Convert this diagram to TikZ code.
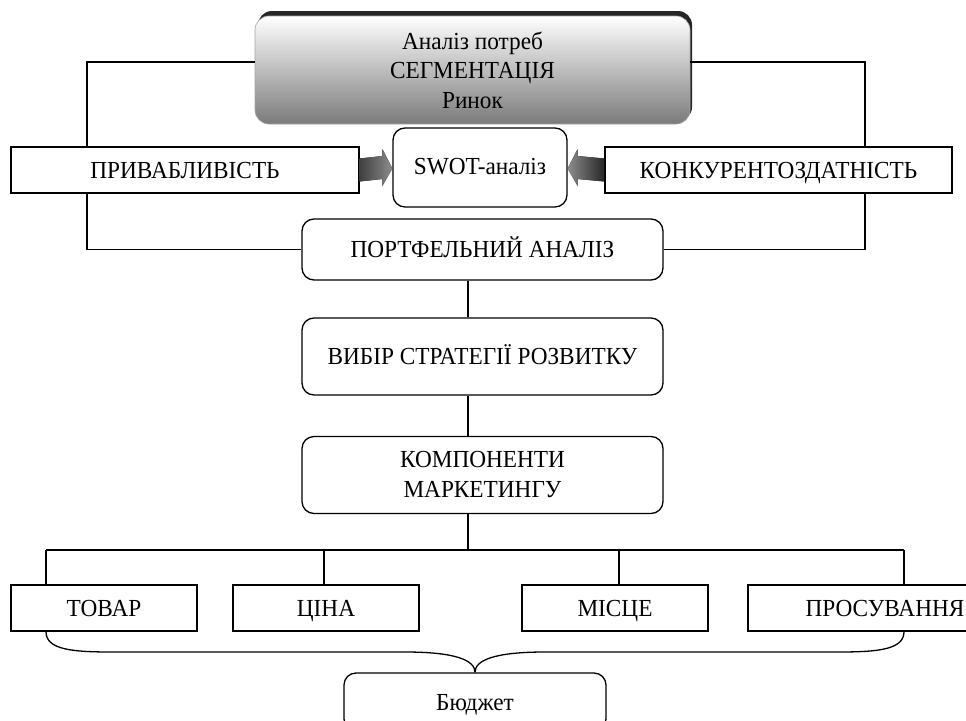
\documentclass[tikz,border=0pt]{standalone}
\usepackage{fontspec}
\setmainfont{Liberation Serif}[FakeStretch=0.95]
\usetikzlibrary{calc}
\begin{document}
\begin{tikzpicture}[x=1pt,y=-1pt,
  conn/.style={line width=1.3pt},
  sq/.style={draw, line width=1.3pt, rectangle, inner sep=0pt, align=center,
     font=\fontsize{24.5}{30}\selectfont},
  one/.style={text height=16.2pt, text depth=0pt},
  rnd/.style={sq, rounded corners=12pt}]
\useasboundingbox (0,0) rectangle (966,720);
\clip (0,0) rectangle (966,720);
% top box
\fill[black!85, rounded corners=14pt] (258,11) rectangle (692,121);
\node[rounded corners=14pt, minimum width=435pt, minimum height=108pt, inner sep=0pt,
      top color=white, bottom color=black!52, draw=black!35, line width=0.6pt,
      align=center, font=\fontsize{24.5}{29.5}\selectfont]
      (top) at (472.5,70) {Аналіз потреб\\СЕГМЕНТАЦІЯ\\Ринок};
% middle row
\node[sq, one, minimum width=348pt, minimum height=46pt] (priv) at (185,170) {ПРИВАБЛИВІСТЬ};
\node[sq, one, minimum width=347pt, minimum height=46pt] (konk) at (778.5,170) {КОНКУРЕНТОЗДАТНІСТЬ};
\node[rnd, text height=13pt, text depth=0pt, minimum width=174pt, minimum height=79pt] (swot) at (480,167.5) {SWOT-аналіз};
% block arrows
\fill[left color=black!75, right color=black!45]
  ($(priv.east)+(0,-11.5)$) -- ($(swot.west)+(-10,-11.5)$) -- ($(swot.west)+(-10,-18.5)$)
  -- ($(swot.west)+(0,1)$) -- ($(swot.west)+(-10,18.5)$) -- ($(swot.west)+(-10,11.5)$)
  -- ($(priv.east)+(0,11.5)$) -- cycle;
\fill[left color=black!45, right color=black!85]
  ($(konk.west)+(0,-11.5)$) -- ($(swot.east)+(10,-11.5)$) -- ($(swot.east)+(10,-18.5)$)
  -- ($(swot.east)+(0,1)$) -- ($(swot.east)+(10,18.5)$) -- ($(swot.east)+(10,11.5)$)
  -- ($(konk.west)+(0,11.5)$) -- cycle;
% chain
\node[rnd, one, minimum width=361pt, minimum height=61pt] (portf) at (482.5,249.5) {ПОРТФЕЛЬНИЙ АНАЛІЗ};
\node[rnd, one, minimum width=361pt, minimum height=77pt] (vybir) at (482.5,356.5) {ВИБІР СТРАТЕГІЇ РОЗВИТКУ};
\node[rnd, minimum width=361pt, minimum height=77pt] (komp) at (482.5,475) {КОМПОНЕНТИ\\МАРКЕТИНГУ};
% bottom boxes
\node[sq, one, minimum width=186pt, minimum height=46pt] (tovar) at (104,608) {ТОВАР};
\node[sq, one, minimum width=186pt, minimum height=46pt] (cina) at (326,608) {ЦІНА};
\node[sq, one, minimum width=186pt, minimum height=46pt] (misce) at (615,608) {МІСЦЕ};
\node[sq, one, minimum width=274pt, minimum height=46pt] (prosuv) at (885,608) {ПРОСУВАННЯ};
\node[rnd, one, minimum width=262pt, minimum height=58pt] (budget) at (475,702) {Бюджет};
% helper coordinates
\coordinate (lx) at (87,0);
\coordinate (rx) at (865,0);
\coordinate (vx) at (468,0);
\coordinate (hb) at (0,550);
\coordinate (d1) at (46,0);
\coordinate (d2) at (324,0);
\coordinate (d3) at (619,0);
\coordinate (d4) at (904,0);
\coordinate (bl) at (112,652);
\coordinate (bm) at (405,652);
\coordinate (br) at (838,652);
\coordinate (bn) at (545,652);
% connectors
\draw[conn] ([yshift=8pt]top.west) -| (lx |- priv.north);
\draw[conn] (lx |- priv.south) |- (portf.west);
\draw[conn] ([yshift=8pt]top.east) -| (rx |- konk.north);
\draw[conn] (rx |- konk.south) |- (portf.east);
\draw[conn] (vx |- portf.south) -- (vx |- vybir.north);
\draw[conn] (vx |- vybir.south) -- (vx |- komp.north);
\draw[conn] (vx |- komp.south) -- (vx |- hb);
\draw[conn] (d1 |- hb) -- (d4 |- hb);
\draw[conn] (d1 |- hb) -- (d1 |- tovar.north);
\draw[conn] (d2 |- hb) -- (d2 |- cina.north);
\draw[conn] (d3 |- hb) -- (d3 |- misce.north);
\draw[conn] (d4 |- hb) -- (d4 |- prosuv.north);
% brace
\draw[conn] (d1 |- tovar.south) .. controls +(0,18) and (72,652) .. (bl) -- (bm)
   .. controls (455,652) and (475,660) .. (budget.north);
\draw[conn] (d4 |- prosuv.south) .. controls +(0,18) and (878,652) .. (br) -- (bn)
   .. controls (495,652) and (475,660) .. (budget.north);
\end{tikzpicture}
\end{document}
